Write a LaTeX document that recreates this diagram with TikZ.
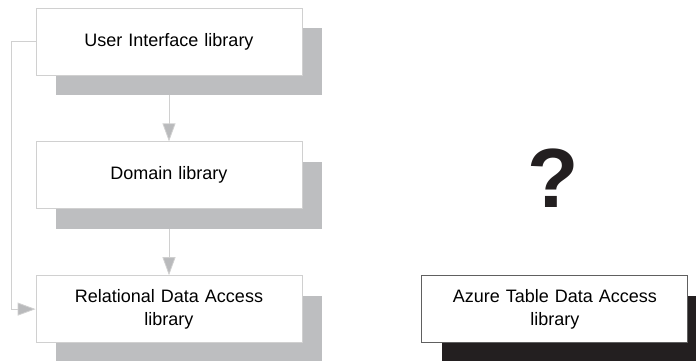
\documentclass[tikz,border=0pt]{standalone}
\usepackage{fontspec}
\setmainfont{Liberation Sans}
\usepackage{tikz}
\usetikzlibrary{arrows.meta,positioning,shadows}

\definecolor{shadowgray}{RGB}{189,190,192}
\definecolor{edgegray}{RGB}{208,208,208}
\definecolor{tipgray}{RGB}{185,186,188}
\definecolor{darkborder}{RGB}{96,96,96}
\definecolor{nearblack}{RGB}{35,31,32}

\begin{document}
\begin{tikzpicture}[x=1pt,y=1pt,>={Triangle[length=18pt,width=13pt,fill=tipgray]},
	node distance=66pt,
	every node/.style={font=\fontsize{18}{23}\selectfont},
	lib/.style={draw=edgegray,line width=0.8pt,fill=white,minimum width=266pt,minimum height=67pt,
		text width=240pt,align=center,inner sep=0pt,
		drop shadow={shadow xshift=20pt,shadow yshift=-20pt,fill=shadowgray,opacity=1}},
	newlib/.style={lib,draw=darkborder,
		drop shadow={shadow xshift=20pt,shadow yshift=-20pt,fill=nearblack,opacity=1}},
	dep/.style={->,draw=edgegray,line width=0.8pt}]
	\useasboundingbox (0,0) rectangle (696,-361);
	\clip (0,0) rectangle (696,-361);

	\node[lib] (ui) at (169,-41.5) {User Interface library};
	\node[lib] (dom) [below=of ui] {Domain library};
	\node[lib] (rel) [below=of dom] {Relational Data Access\\library};
	\node[newlib] (azure) [right=119pt of rel] {Azure Table Data Access\\library};

	\node[font=\fontsize{84}{84}\selectfont\bfseries,text=nearblack] (unknown) at (553,-178) {?};

	\coordinate (bend) at ([xshift=-24pt]ui.west);

	\draw[dep] ([yshift=-20pt]ui.south) -- (dom.north);
	\draw[dep] ([yshift=-20pt]dom.south) -- (rel.north);
	\draw[dep] (ui.west) -- (bend) |- (rel.west);
\end{tikzpicture}
\end{document}
